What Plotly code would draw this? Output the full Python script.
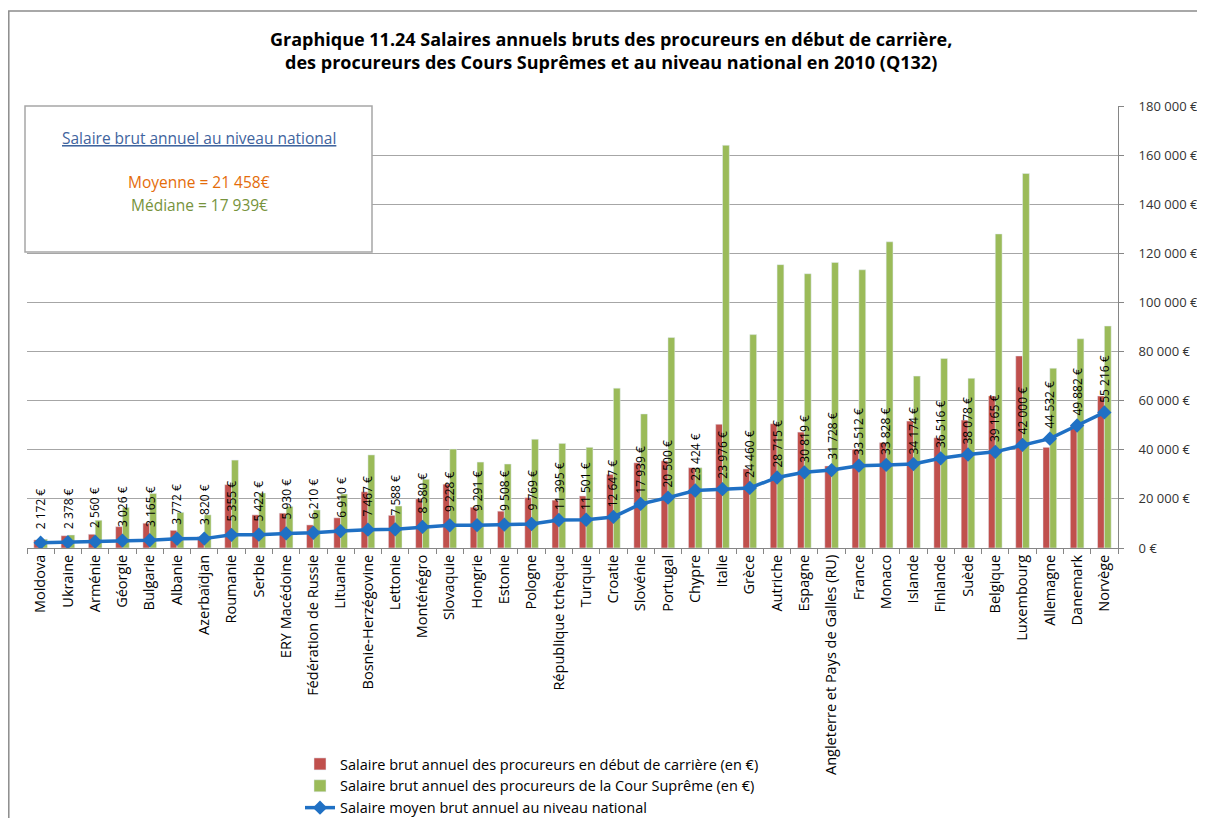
import plotly.graph_objects as go

countries = ["Moldova", "Ukraine", "Arménie", "Géorgie", "Bulgarie", "Albanie", "Azerbaïdjan",
             "Roumanie", "Serbie", "ERY Macédoine", "Fédération de Russie", "Lituanie",
             "Bosnie-Herzégovine", "Lettonie", "Monténégro", "Slovaquie", "Hongrie", "Estonie",
             "Pologne", "République tchèque", "Turquie", "Croatie", "Slovénie", "Portugal",
             "Chypre", "Italie", "Grèce", "Autriche", "Espagne",
             "Angleterre et Pays de Galles (RU)", "France", "Monaco", "Islande", "Finlande",
             "Suède", "Belgique", "Luxembourg", "Allemagne", "Danemark", "Norvège"]

debut = [3300, 5000, 5600, 8700, 10100, 7200, 4600, 25800, 13500, 14200, 9400, 12300,
         22900, 13300, 20000, 26000, 16600, 15000, 20500, 19500, 21200, 30000, 34700, 35500,
         32700, 50400, 32200, 50600, 47200, 33400, 40300, 42900, 51700, 44900, 52100, 61900,
         78200, 41000, 49800, 61900]

supreme = [3600, 5300, 11300, 16500, 22200, 14500, 13500, 35800, 22400, 16900, 15500, 22000,
           37900, 17100, 28000, 40300, 35000, 34200, 44300, 42600, 41000, 65100, 54600, 85700,
           32700, 164000, 86900, 115400, 111700, 116300, 113300, 124700, 70000, 77200, 69100,
           127900, 152500, 73200, 85200, 90400]

national = [2172, 2378, 2560, 3026, 3165, 3772, 3820, 5355, 5422, 5930, 6210, 6910, 7467,
            7588, 8580, 9228, 9291, 9508, 9769, 11395, 11501, 12647, 17939, 20500, 23424,
            23976, 24460, 28715, 30819, 31728, 33512, 33828, 34174, 36516, 38078, 39165,
            42000, 44532, 49882, 55216]

y_ticks = [0, 20000, 40000, 60000, 80000, 100000, 120000, 140000, 160000, 180000]
y_ticktext = ["0 €", "20 000 €", "40 000 €", "60 000 €", "80 000 €", "100 000 €",
              "120 000 €", "140 000 €", "160 000 €", "180 000 €"]

names = ["Salaire brut annuel des procureurs en début de carrière (en €)",
         "Salaire brut annuel des procureurs de la Cour Suprême (en €)",
         "Salaire moyen brut annuel au niveau national"]

FONT = "Open Sans"
OFF = 8  # page body margin
W, H = 1205, 818
# plot area in page pixels: x 27..1118, y 106..548
ML = 27 - OFF
MT = 106 - OFF
MR = W - (1118 - OFF)
MB = H - (548 - OFF)
PW = W - ML - MR
PH = H - MT - MB


def px2x(px):
    return (px - OFF - ML) / PW


def px2y(py):
    return (H - MB - (py - OFF)) / PH


fig = go.Figure()
fig.add_trace(go.Bar(x=countries, y=debut, name=names[0], marker_color="#C0504D"))
fig.add_trace(go.Bar(x=countries, y=supreme, name=names[1], marker_color="#9BBB59"))
fig.add_trace(go.Scatter(x=countries, y=national, name=names[2], mode="lines+markers",
                         line=dict(color="#1F70C4", width=3.5),
                         marker=dict(symbol="diamond", size=11, color="#1F70C4")))

annotations = []
for c, v in zip(countries, national):
    annotations.append(dict(x=c, y=v, xref="x", yref="y", text=f"{v:,}".replace(",", " ") + " €",
                            textangle=-90, showarrow=False, yanchor="middle", xanchor="center",
                            yshift=34, font=dict(family=FONT, size=12, color="#000000")))

annotations += [
    dict(x=px2x(199), y=px2y(138), xref="paper", yref="paper", showarrow=False,
         xanchor="center", yanchor="middle",
         text="<u>Salaire brut annuel au niveau national</u>",
         font=dict(family=FONT, size=15.5, color="#3F649E")),
    dict(x=px2x(199), y=px2y(182), xref="paper", yref="paper", showarrow=False,
         xanchor="center", yanchor="middle",
         text="Moyenne = 21 458€", font=dict(family=FONT, size=15.5, color="#E46C0A")),
    dict(x=px2x(199), y=px2y(205), xref="paper", yref="paper", showarrow=False,
         xanchor="center", yanchor="middle",
         text="Médiane = 17 939€", font=dict(family=FONT, size=15.5, color="#77933C")),
    dict(x=px2x(611), y=px2y(50), xref="paper", yref="paper", showarrow=False,
         text="<b>Graphique 11.24 Salaires annuels bruts des procureurs en début de carrière,<br>"
              "des procureurs des Cours Suprêmes et au niveau national en 2010 (Q132)</b>",
         font=dict(family=FONT, size=18, color="#000000"), xanchor="center", yanchor="middle"),
]

shapes = [
    dict(type="rect", xref="paper", yref="paper", x0=px2x(25), x1=px2x(372),
         y0=px2y(106), y1=px2y(252), line=dict(color="#A6A6A6", width=1.5),
         fillcolor="white", layer="above"),
    dict(type="rect", xref="paper", yref="paper", x0=px2x(8.8), x1=px2x(1200),
         y0=px2y(11), y1=px2y(840), line=dict(color="#8C8C8C", width=1.5),
         fillcolor="rgba(0,0,0,0)", layer="below"),
]

fig.update_layout(
    width=W, height=H,
    margin=dict(l=ML, r=MR, t=MT, b=MB, autoexpand=False),
    paper_bgcolor="white", plot_bgcolor="white",
    barmode="group", bargap=0.5, bargroupgap=0,
    font=dict(family=FONT, color="#000000"),
    showlegend=True,
    legend=dict(x=px2x(300), y=px2y(748), xanchor="left", yanchor="top",
                font=dict(family=FONT, size=14.5, color="#000000"),
                bgcolor="rgba(0,0,0,0)", traceorder="normal"),
    annotations=annotations,
    shapes=shapes,
    xaxis=dict(type="category", range=[-0.5, len(countries) - 0.5], autorange=False,
               tickangle=-90, showgrid=False, showline=True,
               linecolor="#868686", linewidth=1, ticks="outside", tickson="boundaries",
               ticklen=5, tickcolor="#868686",
               tickfont=dict(family=FONT, size=14.5, color="#000000")),
    yaxis=dict(side="right", range=[0, 180000], autorange=False,
               tickvals=y_ticks, ticktext=y_ticktext,
               showgrid=True, gridcolor="#A6A6A6", gridwidth=1, showline=True,
               linecolor="#868686", ticks="outside", ticklen=5, tickcolor="#868686",
               tickfont=dict(family=FONT, size=13, color="#333333"),
               ticklabelstandoff=12, zeroline=False),
)

fig.write_html("out.html")
